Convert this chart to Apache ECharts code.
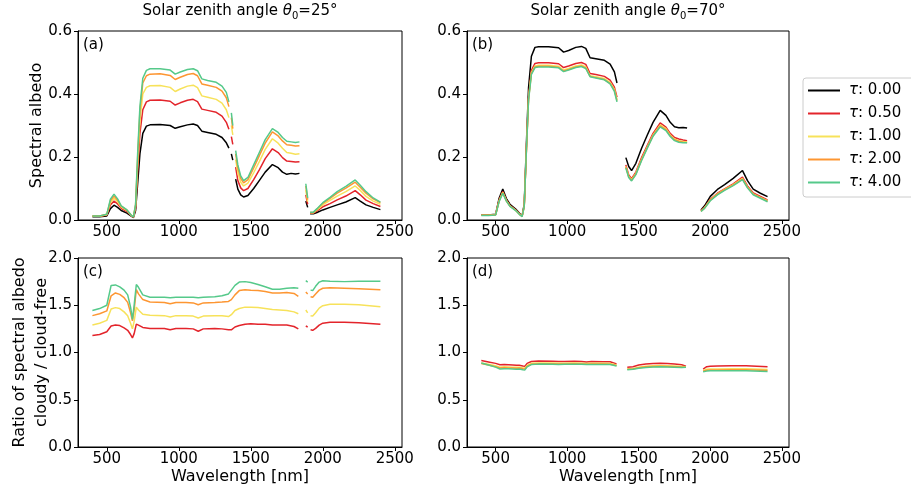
<!DOCTYPE html>
<html>
<head>
<meta charset="utf-8">
<script src="https://cdn.jsdelivr.net/npm/echarts@6/dist/echarts.min.js"></script>
<style>
  html, body { margin: 0; padding: 0; background: #fff; }
  #chart { width: 911px; height: 485px; }
</style>
</head>
<body>
<div id="chart"></div>
<script>
// Wavelength grid (nm) for the spectral albedo panels; null values mark water-vapour gaps
const WAVELENGTH = [400,450,500,525,550,575,600,640,670,685,
  700,715,730,750,775,800,870,940,975,1010,
  1060,1100,1130,1160,1200,1260,1300,1330,1348,1355,
  1365,1375,1385,1395,1410,1430,1450,1480,1520,1560,
  1600,1650,1690,1720,1750,1780,1810,1838,1860,1882,
  1895,1903,1912,1935,1960,2000,2050,2100,2160,2225,
  2260,2300,2350,2400];

// Spectral albedo, solar zenith angle 25°
const ALB25_T000 = [0.010,0.010,0.013,0.036,0.047,0.040,0.030,0.022,0.012,0.008,
  0.030,0.120,0.210,0.275,0.298,0.302,0.303,0.300,0.291,0.296,
  0.302,0.305,0.300,0.282,0.278,0.272,0.262,0.245,0.228,null,
  0.210,0.190,null,0.130,0.098,0.080,0.073,0.078,0.100,0.126,
  0.152,0.176,0.166,0.152,0.145,0.148,0.146,0.148,null,0.060,
  0.040,null,0.020,0.020,0.024,0.032,0.040,0.048,0.057,0.071,
  0.060,0.048,0.040,0.033];
const ALB25_T050 = [0.012,0.012,0.016,0.048,0.060,0.051,0.037,0.027,0.014,0.009,
  0.038,0.160,0.275,0.350,0.375,0.380,0.381,0.377,0.365,0.372,
  0.380,0.383,0.376,0.352,0.348,0.342,0.330,0.310,0.288,null,
  0.265,0.240,null,0.168,0.125,0.102,0.093,0.100,0.128,0.160,
  0.195,0.226,0.214,0.198,0.187,0.186,0.184,0.185,null,0.080,
  0.050,null,0.022,0.022,0.029,0.042,0.052,0.064,0.076,0.093,
  0.080,0.063,0.052,0.043];
const ALB25_T100 = [0.012,0.012,0.017,0.055,0.069,0.058,0.041,0.030,0.015,0.010,
  0.044,0.185,0.315,0.400,0.421,0.426,0.427,0.421,0.408,0.416,
  0.425,0.428,0.420,0.394,0.390,0.383,0.371,0.350,0.325,null,
  0.300,0.270,null,0.192,0.150,0.120,0.108,0.117,0.150,0.186,
  0.224,0.258,0.244,0.228,0.214,0.212,0.209,0.210,null,0.095,
  0.058,null,0.023,0.023,0.032,0.048,0.062,0.076,0.090,0.108,
  0.094,0.075,0.060,0.050];
const ALB25_T200 = [0.013,0.013,0.018,0.061,0.076,0.063,0.044,0.031,0.015,0.010,
  0.048,0.205,0.345,0.435,0.458,0.463,0.464,0.459,0.446,0.453,
  0.462,0.465,0.458,0.432,0.428,0.421,0.409,0.388,0.360,null,
  0.325,0.290,null,0.210,0.165,0.132,0.118,0.128,0.165,0.205,
  0.244,0.280,0.267,0.251,0.239,0.237,0.235,0.236,null,0.108,
  0.065,null,0.024,0.024,0.035,0.053,0.069,0.085,0.101,0.120,
  0.104,0.085,0.067,0.055];
const ALB25_T400 = [0.013,0.013,0.018,0.066,0.082,0.067,0.045,0.032,0.015,0.010,
  0.050,0.220,0.360,0.450,0.475,0.480,0.480,0.476,0.463,0.470,
  0.478,0.480,0.474,0.448,0.443,0.437,0.425,0.405,0.375,null,
  0.340,0.300,null,0.220,0.175,0.140,0.125,0.135,0.175,0.215,
  0.255,0.290,0.278,0.262,0.250,0.248,0.246,0.248,null,0.115,
  0.070,null,0.025,0.025,0.036,0.055,0.072,0.090,0.107,0.127,
  0.110,0.090,0.070,0.057];

// Spectral albedo, solar zenith angle 70°
const ALB70_T000 = [0.016,0.016,0.018,0.070,0.098,0.068,0.050,0.035,0.020,0.013,
  0.050,0.240,0.420,0.520,0.548,0.550,0.550,0.547,0.533,0.538,
  0.548,0.551,0.545,0.515,0.512,0.507,0.495,0.470,0.435,null,
  null,null,null,null,0.198,0.170,0.157,0.180,0.228,0.270,
  0.310,0.348,0.332,0.310,0.296,0.293,0.294,0.292,null,null,
  null,null,null,0.032,0.045,0.075,0.097,0.112,0.132,0.157,
  0.125,0.098,0.085,0.074];
const ALB70_T050 = [0.015,0.015,0.017,0.064,0.090,0.063,0.046,0.032,0.018,0.012,
  0.045,0.225,0.390,0.475,0.497,0.499,0.499,0.496,0.484,0.489,
  0.497,0.500,0.494,0.465,0.462,0.456,0.444,0.422,0.390,null,
  null,null,null,null,0.175,0.143,0.131,0.152,0.198,0.237,
  0.275,0.308,0.295,0.275,0.262,0.257,0.254,0.252,null,null,
  null,null,null,0.029,0.040,0.066,0.085,0.099,0.115,0.136,
  0.108,0.086,0.075,0.064];
const ALB70_T100 = [0.015,0.015,0.017,0.062,0.088,0.062,0.045,0.031,0.017,0.012,
  0.044,0.222,0.385,0.468,0.489,0.491,0.491,0.488,0.476,0.481,
  0.489,0.492,0.486,0.458,0.455,0.449,0.437,0.415,0.382,null,
  null,null,null,null,0.170,0.139,0.128,0.148,0.193,0.232,
  0.270,0.302,0.290,0.270,0.257,0.252,0.249,0.248,null,null,
  null,null,null,0.028,0.039,0.064,0.083,0.097,0.112,0.132,
  0.105,0.083,0.072,0.061];
const ALB70_T200 = [0.015,0.015,0.017,0.061,0.087,0.061,0.044,0.031,0.017,0.012,
  0.044,0.220,0.383,0.465,0.486,0.488,0.488,0.485,0.473,0.478,
  0.486,0.489,0.483,0.456,0.452,0.446,0.434,0.412,0.379,null,
  null,null,null,null,0.168,0.137,0.126,0.146,0.191,0.230,
  0.268,0.299,0.287,0.268,0.255,0.250,0.247,0.246,null,null,
  null,null,null,0.028,0.038,0.063,0.082,0.096,0.111,0.130,
  0.104,0.082,0.071,0.060];
const ALB70_T400 = [0.014,0.014,0.016,0.059,0.085,0.060,0.043,0.030,0.016,0.011,
  0.043,0.218,0.380,0.462,0.484,0.486,0.486,0.483,0.471,0.476,
  0.484,0.487,0.481,0.455,0.451,0.445,0.432,0.408,0.375,null,
  null,null,null,null,0.165,0.135,0.124,0.144,0.189,0.228,
  0.266,0.296,0.284,0.265,0.252,0.247,0.245,0.245,null,null,
  null,null,null,0.027,0.037,0.061,0.080,0.094,0.109,0.128,
  0.102,0.080,0.069,0.058];

// Wavelength grid (nm) for the cloudy / cloud-free ratio panels
const RATIO_WL = [400,450,500,530,560,590,620,645,665,678,
  690,705,720,750,800,900,940,980,1050,1100,
  1135,1170,1250,1300,1345,1355,1365,1390,1420,1460,
  1500,1550,1600,1650,1700,1750,1800,1830,1860,1882,
  1895,1905,1915,1930,1950,1975,2000,2050,2150,2250,
  2400];

// Ratio cloudy / cloud-free, solar zenith angle 25°
const RATIO25_T050 = [1.18,1.19,1.22,1.28,1.29,1.285,1.26,1.235,1.19,1.155,
  1.20,1.30,1.29,1.265,1.255,1.255,1.24,1.255,1.255,1.25,
  1.225,1.25,1.255,1.25,1.24,1.225,1.24,1.27,1.285,1.30,
  1.305,1.30,1.30,1.29,1.29,1.29,1.275,1.25,null,1.28,
  1.27,null,1.24,1.235,1.255,1.29,1.31,1.32,1.32,1.315,
  1.30];
const RATIO25_T100 = [1.29,1.31,1.34,1.46,1.475,1.465,1.43,1.39,1.31,1.25,
  1.33,1.48,1.45,1.405,1.395,1.39,1.375,1.39,1.39,1.385,
  1.365,1.385,1.39,1.39,1.38,1.37,1.40,1.445,1.465,1.48,
  1.48,1.475,1.465,1.455,1.45,1.445,1.43,1.41,null,1.45,
  1.42,null,1.39,1.385,1.42,1.47,1.495,1.51,1.51,1.505,
  1.485];
const RATIO25_T200 = [1.39,1.41,1.44,1.60,1.63,1.615,1.58,1.53,1.42,1.335,
  1.45,1.665,1.62,1.56,1.535,1.53,1.515,1.53,1.53,1.525,
  1.505,1.525,1.53,1.535,1.54,1.53,1.56,1.61,1.655,1.665,
  1.66,1.655,1.645,1.63,1.63,1.635,1.625,1.595,null,1.64,
  1.62,null,1.59,1.585,1.62,1.66,1.68,1.685,1.68,1.675,
  1.665];
const RATIO25_T400 = [1.445,1.465,1.50,1.71,1.715,1.695,1.66,1.61,1.48,1.35,
  1.50,1.72,1.69,1.61,1.585,1.585,1.58,1.585,1.585,1.585,
  1.58,1.585,1.59,1.60,1.62,1.625,1.66,1.71,1.745,1.75,
  1.74,1.72,1.695,1.67,1.67,1.68,1.685,1.68,null,1.76,
  1.745,null,1.66,1.655,1.70,1.745,1.76,1.755,1.75,1.755,
  1.755];

// Ratio cloudy / cloud-free, solar zenith angle 70°
const RATIO70_T050 = [0.915,0.90,0.885,0.87,0.872,0.87,0.868,0.865,0.866,0.87,
  0.858,0.855,0.885,0.905,0.91,0.908,0.905,0.906,0.907,0.906,
  0.90,0.905,0.903,0.902,0.88,null,null,null,0.845,0.85,
  0.868,0.878,0.883,0.886,0.884,0.878,0.87,0.855,null,null,
  null,null,null,null,0.825,0.85,0.855,0.857,0.86,0.86,
  0.85];
const RATIO70_T100 = [0.89,0.875,0.86,0.845,0.848,0.847,0.845,0.843,0.845,0.848,
  0.837,0.835,0.862,0.885,0.89,0.888,0.886,0.887,0.888,0.887,
  0.883,0.886,0.885,0.884,0.868,null,null,null,0.828,0.832,
  0.845,0.855,0.86,0.862,0.86,0.857,0.852,0.848,null,null,
  null,null,null,null,0.81,0.822,0.825,0.826,0.828,0.828,
  0.82];
const RATIO70_T200 = [0.883,0.867,0.85,0.836,0.838,0.837,0.835,0.833,0.835,0.838,
  0.828,0.826,0.855,0.877,0.882,0.88,0.878,0.879,0.88,0.879,
  0.876,0.878,0.877,0.876,0.862,null,null,null,0.822,0.826,
  0.838,0.848,0.853,0.855,0.853,0.85,0.846,0.845,null,null,
  null,null,null,null,0.803,0.812,0.815,0.816,0.818,0.818,
  0.81];
const RATIO70_T400 = [0.888,0.868,0.845,0.826,0.828,0.827,0.825,0.823,0.825,0.828,
  0.818,0.816,0.848,0.872,0.877,0.876,0.874,0.875,0.876,0.875,
  0.872,0.874,0.873,0.872,0.858,null,null,null,0.818,0.822,
  0.833,0.842,0.847,0.849,0.847,0.845,0.842,0.845,null,null,
  null,null,null,null,0.797,0.803,0.806,0.807,0.808,0.808,
  0.80];

// Legend names, line colours and tick values
const TAU_NAMES = ['τ: 0.00', 'τ: 0.50', 'τ: 1.00', 'τ: 2.00', 'τ: 4.00'];
const TAU_COLORS = ['#000000', '#e3242b', '#f7e25a', '#fd9632', '#55c98a'];
const X_TICKS = [500, 1000, 1500, 2000, 2500];
const ALBEDO_TICKS = [0.0, 0.2, 0.4, 0.6];
const RATIO_TICKS = [0.0, 0.5, 1.0, 1.5, 2.0];

const FONT = 'DejaVu Sans';

function pairs(xs, ys) {
  return xs.map((x, i) => [x, ys[i]]);
}

const grids = [
  { left: 78, top: 31, width: 324, height: 189, show: true, borderColor: '#000', borderWidth: 1 },
  { left: 467, top: 31, width: 322, height: 189, show: true, borderColor: '#000', borderWidth: 1 },
  { left: 78, top: 258, width: 324, height: 189, show: true, borderColor: '#000', borderWidth: 1 },
  { left: 467, top: 258, width: 322, height: 189, show: true, borderColor: '#000', borderWidth: 1 }
];

function xAxis(gridIndex) {
  return {
    type: 'value', gridIndex, min: 300, max: 2550,
    axisLine: { show: true, lineStyle: { color: '#000', width: 1 } },
    axisTick: { show: true, length: 4, customValues: X_TICKS, lineStyle: { color: '#000' } },
    axisLabel: { show: true, customValues: X_TICKS, color: '#000', fontSize: 15, fontFamily: FONT, margin: 5,
      formatter: v => String(v) },
    splitLine: { show: false }
  };
}

function yAxis(gridIndex, ticks, maxv, name) {
  return {
    type: 'value', gridIndex, min: 0, max: maxv, interval: ticks[1] - ticks[0],
    axisLine: { show: true, lineStyle: { color: '#000', width: 1 } },
    axisTick: { show: true, length: 4, lineStyle: { color: '#000' } },
    axisLabel: { color: '#000', fontSize: 15, fontFamily: FONT, margin: 6,
      formatter: v => v.toFixed(1) },
    splitLine: { show: false },
    name: name,
    nameLocation: 'middle', nameGap: name.indexOf('\n') >= 0 ? 25 : 30, nameMoveOverlap: false,
    nameTextStyle: { color: '#000', fontSize: 16, fontFamily: FONT, lineHeight: 22 }
  };
}

function lineSeries(name, color, idx, xs, ys) {
  return {
    type: 'line', name, xAxisIndex: idx, yAxisIndex: idx,
    data: pairs(xs, ys), showSymbol: false, connectNulls: false,
    lineStyle: { color, width: 1.5 }, itemStyle: { color },
    emphasis: { disabled: true }, silent: true
  };
}

const alb25 = [ALB25_T000, ALB25_T050, ALB25_T100, ALB25_T200, ALB25_T400];
const alb70 = [ALB70_T000, ALB70_T050, ALB70_T100, ALB70_T200, ALB70_T400];
const rat25 = [RATIO25_T050, RATIO25_T100, RATIO25_T200, RATIO25_T400];
const rat70 = [RATIO70_T050, RATIO70_T100, RATIO70_T200, RATIO70_T400];

const series = [];
alb25.forEach((ys, k) => series.push(lineSeries(TAU_NAMES[k], TAU_COLORS[k], 0, WAVELENGTH, ys)));
alb70.forEach((ys, k) => series.push(lineSeries(TAU_NAMES[k], TAU_COLORS[k], 1, WAVELENGTH, ys)));
rat25.forEach((ys, k) => series.push(lineSeries(TAU_NAMES[k + 1], TAU_COLORS[k + 1], 2, RATIO_WL, ys)));
rat70.forEach((ys, k) => series.push(lineSeries(TAU_NAMES[k + 1], TAU_COLORS[k + 1], 3, RATIO_WL, ys)));

const titleRich = {
  n: { fontSize: 15, fontFamily: FONT, fill: '#000', lineHeight: 20 },
  i: { fontSize: 15, fontFamily: FONT, fontStyle: 'italic', fill: '#000', lineHeight: 20 },
  s: { fontSize: 10, fontFamily: FONT, fill: '#000', lineHeight: 20, verticalAlign: 'bottom', padding: [7, 0, 0, 0] }
};

function panelTitle(x, angle) {
  return {
    type: 'text', x: x, y: 11, silent: true,
    style: {
      text: '{n|Solar zenith angle }{i|θ}{s|0}{n|=' + angle + '°}',
      rich: titleRich, align: 'center', verticalAlign: 'middle'
    }
  };
}

function centredText(x, y, text, size) {
  return {
    type: 'text', x, y, silent: true,
    style: { text, fontSize: size, fontFamily: FONT, fill: '#000', align: 'center', verticalAlign: 'middle' }
  };
}

function panelTag(x, y, tag) {
  return {
    type: 'text', x, y, silent: true,
    style: { text: tag, fontSize: 15, fontFamily: FONT, fill: '#000', verticalAlign: 'middle' }
  };
}

const chart = echarts.init(document.getElementById('chart'), null, { renderer: 'canvas' });
chart.setOption({
  animation: false,
  backgroundColor: '#fff',
  grid: grids,
  xAxis: [xAxis(0), xAxis(1), xAxis(2), xAxis(3)],
  yAxis: [
    yAxis(0, ALBEDO_TICKS, 0.6, 'Spectral albedo'),
    yAxis(1, ALBEDO_TICKS, 0.6, ''),
    yAxis(2, RATIO_TICKS, 2.0, 'Ratio of spectral albedo\ncloudy / cloud-free'),
    yAxis(3, RATIO_TICKS, 2.0, '')
  ],
  legend: {
    data: TAU_NAMES, orient: 'vertical', left: 803, top: 78,
    icon: 'rect', itemWidth: 32, itemHeight: 2, itemGap: 8,
    padding: [5, 24, 7, 5],
    borderColor: '#cccccc', borderWidth: 1, borderRadius: 3,
    backgroundColor: '#fff',
    selectedMode: false,
    formatter: name => '{i|τ}{n|' + name.slice(1) + '}',
    textStyle: {
      color: '#000', fontSize: 15, fontFamily: FONT, padding: [0, 0, 0, 4],
      rich: {
        i: { fontSize: 15, fontFamily: FONT, fontStyle: 'italic', color: '#000', lineHeight: 17 },
        n: { fontSize: 15, fontFamily: FONT, color: '#000', lineHeight: 17 }
      }
    }
  },
  graphic: [
    panelTitle(240, 25),
    panelTitle(628, 70),
    centredText(240, 477, 'Wavelength [nm]', 16),
    centredText(628, 477, 'Wavelength [nm]', 16),
    panelTag(83, 45, '(a)'),
    panelTag(472, 45, '(b)'),
    panelTag(83, 272, '(c)'),
    panelTag(472, 272, '(d)')
  ],
  series: series
});
</script>
</body>
</html>
